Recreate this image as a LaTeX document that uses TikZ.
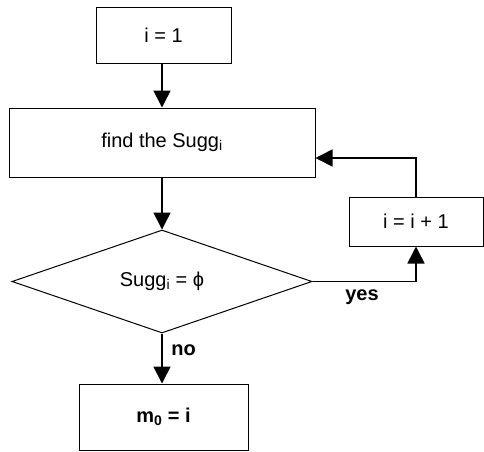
\documentclass[tikz,border=0pt]{standalone}
\usepackage{fontspec}
\setmainfont{Liberation Sans}
\usetikzlibrary{shapes.geometric,arrows.meta}
\begin{document}
\begin{tikzpicture}[x=1pt,y=-1pt,
  every node/.style={font=\fontsize{20}{24}\selectfont, inner sep=0pt},
  boxnode/.style={draw, line width=1pt, rectangle},
  dianode/.style={draw, line width=1pt, diamond, aspect=3},
  flow/.style={line width=1.6pt, -{Triangle[length=17pt,width=17pt]}},
  lbl/.style={font=\fontsize{20}{24}\selectfont\bfseries}]
\useasboundingbox (0,0) rectangle (484,451);
\node[boxnode, minimum width=135pt, minimum height=56pt] (b1) at (163.5,35) {i = 1};
\node[boxnode, minimum width=306pt, minimum height=69pt] (b2) at (162,142.5) {find the Sugg\textsubscript{i}};
\node[dianode, minimum width=300pt, minimum height=103pt] (d) at (162,281.5) {Sugg\textsubscript{i} = ϕ};
\node[boxnode, minimum width=134pt, minimum height=49pt] (b3) at (416,221.5) {i = i + 1};
\node[boxnode, minimum width=169pt, minimum height=66pt, font=\fontsize{20}{24}\selectfont\bfseries] (b4) at (163.5,417) {m\textsubscript{0} = i};
\coordinate (lp) at (416,158);
\draw[flow] (b1.south -| 162,0) -- (b2.north -| 162,0);
\draw[flow] (b2.south -| d.north) -- (d.north);
\draw[flow] (d.east) -| (b3.south);
\draw[flow] (b3.north) -- (lp) -- (b2.east |- lp);
\draw[flow] (d.south) -- (b4.north -| d.south);
\node[lbl, anchor=base] (yes) at (362,300) {yes};
\node[lbl, anchor=base] (no) at (183.5,355) {no};
\end{tikzpicture}
\end{document}
